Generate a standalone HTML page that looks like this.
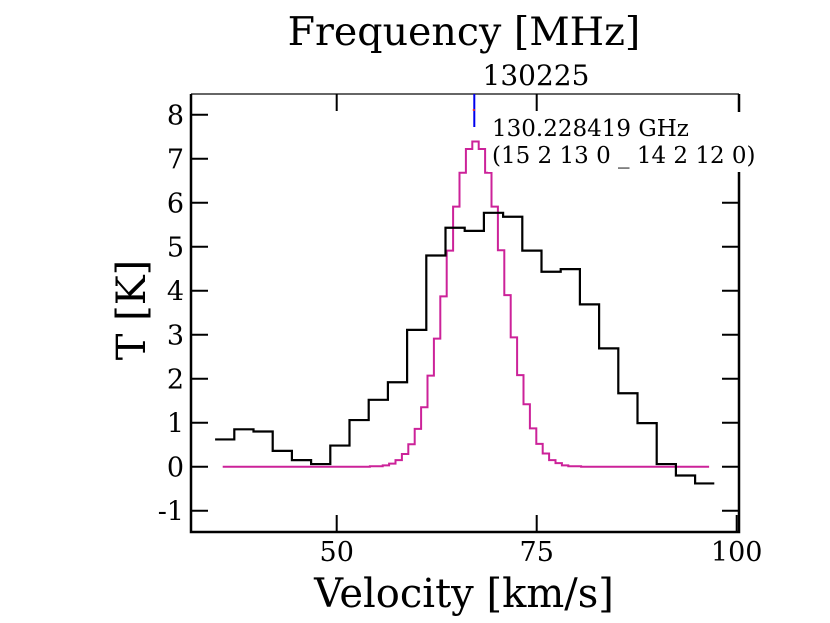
<!DOCTYPE html>
<html><head><meta charset="utf-8"><style>
html,body{margin:0;padding:0;background:#fff}
svg{display:block;font-family:"DejaVu Serif","Liberation Serif",serif}
</style></head><body>
<svg id="chart" width="830" height="623" viewBox="0 0 830 623" xmlns="http://www.w3.org/2000/svg">
<g id="plot"></g>
</svg>
<script>
const yTicks=[-1,0,1,2,3,4,5,6,7,8];
const xTicks=[50,75,100];
const xTickLabels=["50","75","100"];
const obsStart=34.8, obsWidth=2.4;
const obsValues=[0.62,0.85,0.80,0.36,0.15,0.06,0.48,1.06,1.52,1.92,3.11,4.80,5.43,5.36,5.77,5.68,4.91,4.43,4.49,3.69,2.69,1.67,0.99,0.06,-0.20,-0.38];
const modStart=35.75, modWidth=0.8;
const modValues=[0,0,0,0,0,0,0,0,0,0,0,0,0,0,0,0,0,0,0,0,0,0,0,0.01,0.01,0.03,0.07,0.15,0.29,0.51,0.86,1.35,2.07,2.91,3.87,4.91,5.91,6.68,7.22,7.39,7.22,6.68,5.91,4.92,3.90,2.94,2.08,1.42,0.87,0.52,0.30,0.15,0.08,0.03,0.01,0.01,0,0,0,0,0,0,0,0,0,0,0,0,0,0,0,0,0,0,0,0];
const lineFreq=67.2;

const L=191,R=739,T=94,B=532;
const X=v=>336.7+8*(v-50);
const Y=t=>466.7-44*t;
const NS="http://www.w3.org/2000/svg";
const g=document.getElementById('plot');
function el(tag,attrs,parent){const e=document.createElementNS(NS,tag);for(const k in attrs)e.setAttribute(k,attrs[k]);(parent||g).appendChild(e);return e;}
function steps(start,w,vals){let d='';vals.forEach((v,i)=>{const x0=X(start+i*w),x1=X(start+(i+1)*w),y=Y(v);d+=(i===0?'M'+x0+','+y:'V'+y)+'H'+x1;});return d;}

let p=el('path',{d:steps(modStart,modWidth,modValues),fill:'none',stroke:'#cc2299','stroke-width':2});


p=el('path',{d:steps(obsStart,obsWidth,obsValues),fill:'none',stroke:'#000','stroke-width':2.2});



let bx=el('rect',{x:488,y:112,width:300,height:60,fill:'#fff'});


let fr=el('path',{d:`M${L},${T}H${R}`,stroke:'#666','stroke-width':2,fill:'none'});


fr=el('path',{d:`M${L},${T}V${B}H${R}V172M${R},${T}V112`,stroke:'#000','stroke-width':2.5,fill:'none'});



yTicks.forEach(t=>{
  const y=Y(t);
  let tk=el('path',{d:`M${L},${y}h17M${R},${y}h-17`,stroke:'#000','stroke-width':2});
  if(y<172&&y>112)tk.setAttribute('d',`M${L},${y}h17`);
  
  
  let tx=el('text',{x:184,y:y+10,'text-anchor':'end','font-size':27});
  tx.textContent=String(t);
  
  
});
xTicks.forEach((v,i)=>{
  const x=X(v);
  let tk=el('path',{d:`M${x},${B}v-17`+(v<100?`M${x},${T}v17`:''),stroke:'#000','stroke-width':2});
  
  
  let tx=el('text',{x:x,y:561,'text-anchor':'middle','font-size':27});
  tx.textContent=xTickLabels[i];
  
  
});
let bl=el('path',{d:`M${X(lineFreq)},${T}V127`,stroke:'#0000ee','stroke-width':2});


let rd=el('rect',{x:X(lineFreq)-1.5,y:109,width:2,height:2,fill:'#e33'});



function txt(s,a,name){const t=el('text',a);t.textContent=s;return t;}
txt('130.228419 GHz',{x:492,y:136,'font-size':23},'line-frequency-label');
txt('(15 2 13 0 _ 14 2 12 0)',{x:492,y:163,'font-size':23},'line-transition-label');
txt('Frequency [MHz]',{x:464,y:45,'text-anchor':'middle','font-size':39.5},'top-axis-title');
txt('130225',{x:536,y:85,'text-anchor':'middle','font-size':28},'top-tick-label');
txt('Velocity [km/s]',{x:464,y:607,'text-anchor':'middle','font-size':40},'x-axis-title');
txt('T [K]',{x:0,y:0,'text-anchor':'middle','font-size':40,transform:'translate(145,310) rotate(-90)'},'y-axis-title');
</script>
</body></html>
